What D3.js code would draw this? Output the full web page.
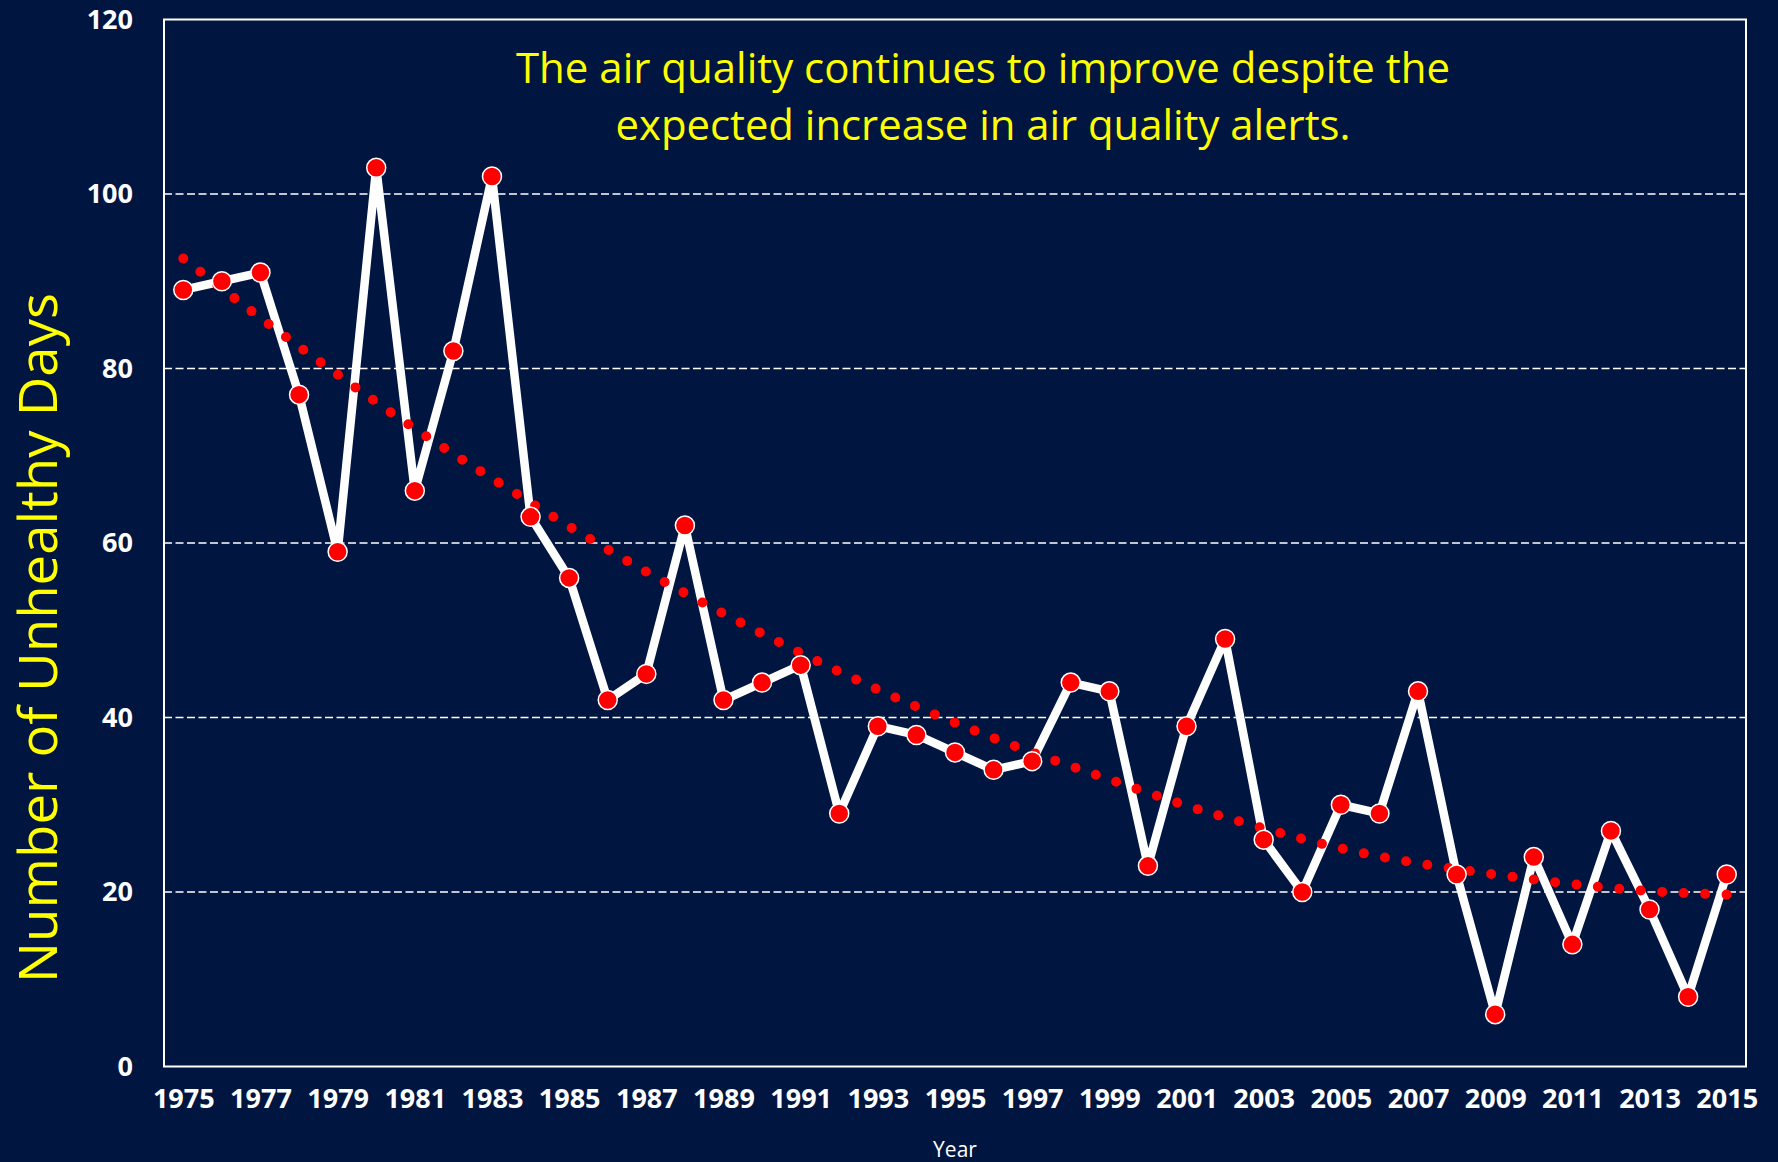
<!DOCTYPE html>
<html>
<head>
<meta charset="utf-8">
<script src="https://cdn.jsdelivr.net/npm/d3@7"></script>
<style>
  html, body { margin: 0; padding: 0; background: #001641; }
  svg { display: block; }
</style>
</head>
<body>
<div id="chart"></div>
<script>
// data
const years = [1975, 1976, 1977, 1978, 1979, 1980, 1981, 1982, 1983, 1984,
               1985, 1986, 1987, 1988, 1989, 1990, 1991, 1992, 1993, 1994,
               1995, 1996, 1997, 1998, 1999, 2000, 2001, 2002, 2003, 2004,
               2005, 2006, 2007, 2008, 2009, 2010, 2011, 2012, 2013, 2014, 2015];
const unhealthyDays = [89, 90, 91, 77, 59, 103, 66, 82, 102, 63,
                       56, 42, 45, 62, 42, 44, 46, 29, 39, 38,
                       36, 34, 35, 44, 43, 23, 39, 49, 26, 20,
                       30, 29, 43, 22, 6, 24, 14, 27, 18, 8, 22];
// trendline, read every other year
const trendYears = [1975, 1977, 1979, 1981, 1983, 1985, 1987, 1989, 1991, 1993, 1995,
                    1997, 1999, 2001, 2003, 2005, 2007, 2009, 2011, 2013, 2015];
const trendValues = [92.6, 85.8, 79.3, 73.1, 67.4, 61.9, 56.7, 51.9, 47.4, 43.2, 39.4,
                     36.0, 32.9, 29.9, 27.3, 25.0, 23.3, 22.0, 20.9, 20.1, 19.7];
const yTicks = [0, 20, 40, 60, 80, 100, 120];
const xTickYears = years.filter((d, i) => i % 2 === 0);
const titleLines = ["The air quality continues to improve despite the",
                    "expected increase in air quality alerts."];
const yTitle = "Number of Unhealthy Days";
const xTitle = "Year";

const width = 1778,
    height = 1162,
    margin = {top: 19.5, right: 32, bottom: 95.5, left: 164},
    bg = "#001641",
    yellow = "#ffff00",
    font = "'Open Sans', 'DejaVu Sans', sans-serif";

let svg = d3.select("#chart")
    .append("svg")
    .attr("width", width)
    .attr("height", height)
    .style("background", bg);

let x = d3.scalePoint()
    .domain(years)
    .range([margin.left, width - margin.right])
    .padding(0.5);

let y = d3.scaleLinear()
    .domain([0, 120])
    .range([height - margin.bottom, margin.top]);

// dashed gridlines
svg.append("g")
    .selectAll("line")
    .data(yTicks.filter(d => d > 0 && d < 120))
    .join("line")
    .attr("x1", margin.left)
    .attr("x2", width - margin.right)
    .attr("y1", d => y(d))
    .attr("y2", d => y(d))
    .attr("stroke", "#ffffff")
    .attr("stroke-width", 1.6)
    .attr("stroke-dasharray", "8,3.5");

// plot border
svg.append("rect")
    .attr("x", margin.left)
    .attr("y", margin.top)
    .attr("width", width - margin.right - margin.left)
    .attr("height", height - margin.bottom - margin.top)
    .attr("fill", "none")
    .attr("stroke", "#ffffff")
    .attr("stroke-width", 2);

// y axis labels
let yAxis = svg.append("g")
    .attr("transform", `translate(${margin.left - 31},0)`)
    .call(d3.axisLeft(y).tickValues(yTicks).tickSize(0).tickPadding(0));
yAxis.select(".domain").remove();
yAxis.selectAll("text")
    .attr("fill", "#ffffff")
    .attr("font-family", font)
    .attr("font-weight", "bold")
    .attr("font-size", 27);

// x axis labels
let xAxis = svg.append("g")
    .attr("transform", `translate(0,${height - margin.bottom})`)
    .call(d3.axisBottom(x).tickValues(xTickYears).tickSize(0).tickPadding(22));
xAxis.select(".domain").remove();
xAxis.selectAll("text")
    .attr("fill", "#ffffff")
    .attr("font-family", font)
    .attr("font-weight", "bold")
    .attr("font-size", 27);

// axis titles
svg.append("text")
    .attr("x", (margin.left + width - margin.right) / 2)
    .attr("y", 1157)
    .attr("text-anchor", "middle")
    .attr("fill", "#ffffff")
    .attr("font-family", font)
    .attr("font-size", 21)
    .text(xTitle);

svg.append("text")
    .attr("transform", "translate(57,638) rotate(-90)")
    .attr("text-anchor", "middle")
    .attr("fill", yellow)
    .attr("font-family", font)
    .attr("font-size", 53)
    .attr("textLength", 690)
    .attr("lengthAdjust", "spacingAndGlyphs")
    .text(yTitle);

// annotation
svg.append("g")
    .selectAll("text")
    .data(titleLines)
    .join("text")
    .attr("x", 983)
    .attr("y", (d, i) => 83 + i * 57)
    .attr("text-anchor", "middle")
    .attr("fill", yellow)
    .attr("font-family", font)
    .attr("font-size", 42)
    .attr("textLength", (d, i) => i === 0 ? 934 : 735)
    .attr("lengthAdjust", "spacingAndGlyphs")
    .text(d => d);

// data line
let line = d3.line()
    .x((d, i) => x(years[i]))
    .y(d => y(d));

svg.append("path")
    .datum(unhealthyDays)
    .attr("d", line)
    .attr("fill", "none")
    .attr("stroke", "#ffffff")
    .attr("stroke-width", 8.5)
    .attr("stroke-linejoin", "round");

// trendline
let trendLine = d3.line()
    .x((d, i) => x(trendYears[i]))
    .y(d => y(d))
    .curve(d3.curveNatural);

svg.append("path")
    .datum(trendValues)
    .attr("d", trendLine)
    .attr("fill", "none")
    .attr("stroke", "#ff0000")
    .attr("stroke-width", 10)
    .attr("stroke-linecap", "round")
    .attr("stroke-dasharray", "0,21.5");

// markers
svg.append("g")
    .selectAll("circle")
    .data(unhealthyDays)
    .join("circle")
    .attr("cx", (d, i) => x(years[i]))
    .attr("cy", d => y(d))
    .attr("r", 9.5)
    .attr("fill", "#ff0000")
    .attr("stroke", "#ffffff")
    .attr("stroke-width", 1.5);
</script>
</body>
</html>
